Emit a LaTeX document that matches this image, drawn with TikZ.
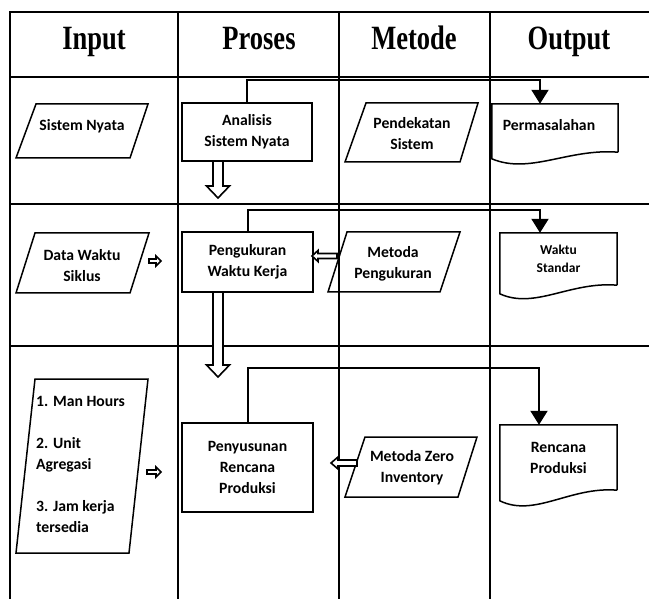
\documentclass[tikz,border=0pt]{standalone}
\usepackage{fontspec}
\usepackage{graphicx}
\setmainfont{Carlito}
\newfontfamily\hdrfont{Liberation Serif}
\usetikzlibrary{arrows.meta,calc}

\newcommand{\hollowdown}[3]{% x, ytop, ytip
  \draw[hollow] (#1-5,#2) -- (#1+5,#2) -- (#1+5,#3-12) -- (#1+11.5,#3-12) -- (#1,#3)
    -- (#1-11.5,#3-12) -- (#1-5,#3-12) -- cycle;}
\newcommand{\hollowleft}[6]{% tipx, endx, y, headlen, headhalf, shafthalf
  \draw[hollow] (#1,#3) -- (#1+#4,#3-#5) -- (#1+#4,#3-#6) -- (#2,#3-#6) -- (#2,#3+#6)
    -- (#1+#4,#3+#6) -- (#1+#4,#3+#5) -- cycle;}
\newcommand{\hollowright}[6]{% tipx, startx, y, headlen, headhalf, shafthalf
  \draw[hollow] (#1,#3) -- (#1-#4,#3-#5) -- (#1-#4,#3-#6) -- (#2,#3-#6) -- (#2,#3+#6)
    -- (#1-#4,#3+#6) -- (#1-#4,#3+#5) -- cycle;}

\begin{document}
\begin{tikzpicture}[x=1pt,y=-1pt,
  grid/.style={line width=2pt},
  shapeline/.style={line width=1.5pt},
  conn/.style={line width=2pt,-{Triangle[width=17pt,length=14pt]}},
  hollow/.style={line width=1.6pt,fill=white,line join=miter},
  body/.style={font=\bfseries\fontsize{15.7}{21}\selectfont,align=center,inner sep=0pt},
  small/.style={font=\bfseries\fontsize{13.5}{18}\selectfont,align=center,inner sep=0pt},
  hdr/.style={font=\hdrfont\bfseries\fontsize{34}{36}\selectfont,inner sep=0pt,anchor=base},
  procbox/.style={draw,line width=1.5pt,body},
]
\useasboundingbox (0,0) rectangle (649,599);
\fill[white] (0,0) rectangle (649,599);

% table grid
\draw[grid] (649,12) -- (10,12) -- (10,599);
\draw[grid] (10,77) -- (649,77);
\draw[grid] (10,204) -- (649,204);
\draw[grid] (10,346) -- (649,346);
\draw[grid] (178,12) -- (178,599);
\draw[grid] (339,12) -- (339,599);
\draw[grid] (490,12) -- (490,599);

% headers
\node[hdr] (hin) at (94,50) {\scalebox{0.78}[1]{Input}};
\node[hdr] (hpr) at (259,50) {\scalebox{0.78}[1]{Proses}};
\node[hdr] (hme) at (414,50) {\scalebox{0.78}[1]{Metode}};
\node[hdr] (hou) at (569,50) {\scalebox{0.78}[1]{Output}};

% ---- row 1
\draw[shapeline] (36,104) -- (148,104) -- (130,158) -- (16,158) -- cycle;
\node[body] (sn) at (82,126) {Sistem Nyata};
\node[procbox,minimum width=130pt,minimum height=58pt] (an) at (247,132) {Analisis\\Sistem Nyata};
\draw[shapeline] (366,103) -- (478,103) -- (460,162) -- (345,162) -- cycle;
\node[body] (ps) at (412,134) {Pendekatan\\Sistem};
\node[body,minimum width=126pt,minimum height=48pt] (d1) at (555,128) {};
\node[body] (d1t) at (549,125) {Permasalahan};
\draw[shapeline] (d1.south east) -- (d1.north east) -- (d1.north west) -- ++(0,55)
  .. controls +(38,16) and +(-50,-4) .. (d1.south east);
\draw[conn] (an.north) -- ++(0,-22) -| ($(d1.north)+(-15,0)$);
\hollowdown{218}{161}{198}

% ---- row 2
\draw[shapeline] (35,233) -- (149,233) -- (130,293) -- (16,293) -- cycle;
\node[body] (dw) at (82,266) {Data Waktu\\Siklus};
\hollowright{161}{149}{261}{5}{5}{2}
\node[procbox,minimum width=131pt,minimum height=60pt] (pk) at (247.5,262) {Pengukuran\\Waktu Kerja};
\draw[shapeline] (347,232) -- (460,232) -- (440,292) -- (328,292) -- cycle;
\node[body] (mp) at (393,264) {Metoda\\Pengukuran};
\hollowleft{312}{337}{256}{6}{5.5}{2.5}
\node[small,minimum width=117pt,minimum height=52pt] (d2) at (558.5,259) {Waktu\\Standar};
\draw[shapeline] (d2.south east) -- (d2.north east) -- (d2.north west) -- ++(0,61)
  .. controls +(35,16) and +(-47,-4) .. (d2.south east);
\draw[conn] (pk.north) -- ++(0,-21) -| ($(d2.north)+(-18.5,0)$);
\hollowdown{218}{292}{377}

% ---- row 3
\draw[shapeline] (35,379) -- (148,379) -- (129,553) -- (16,553) -- cycle;
\node[body,align=left,anchor=west] (lst) at (36,464)
  {1. Man Hours\\[21pt]2. Unit\\Agregasi\\[21pt]3. Jam kerja\\tersedia};
\hollowright{161}{147}{472}{5}{5}{2}
\node[procbox,minimum width=131pt,minimum height=89pt] (pr) at (247.5,467.5) {Penyusunan\\Rencana\\Produksi};
\draw[shapeline] (365,437) -- (477,437) -- (458,497) -- (345,497) -- cycle;
\node[body] (mz) at (412,468) {Metoda Zero\\Inventory};
\hollowleft{331}{357}{463}{7}{6}{3}
\node[body,minimum width=117pt,minimum height=65pt] (d3) at (558.5,457.5) {Rencana\\Produksi};
\draw[shapeline] (d3.south east) -- (d3.north east) -- (d3.north west) -- ++(0,76)
  .. controls +(35,17) and +(-47,-4) .. (d3.south east);
\draw[conn] (pr.north) -- ++(0,-54) -| ($(d3.north)+(-19.5,0)$);
\end{tikzpicture}
\end{document}
